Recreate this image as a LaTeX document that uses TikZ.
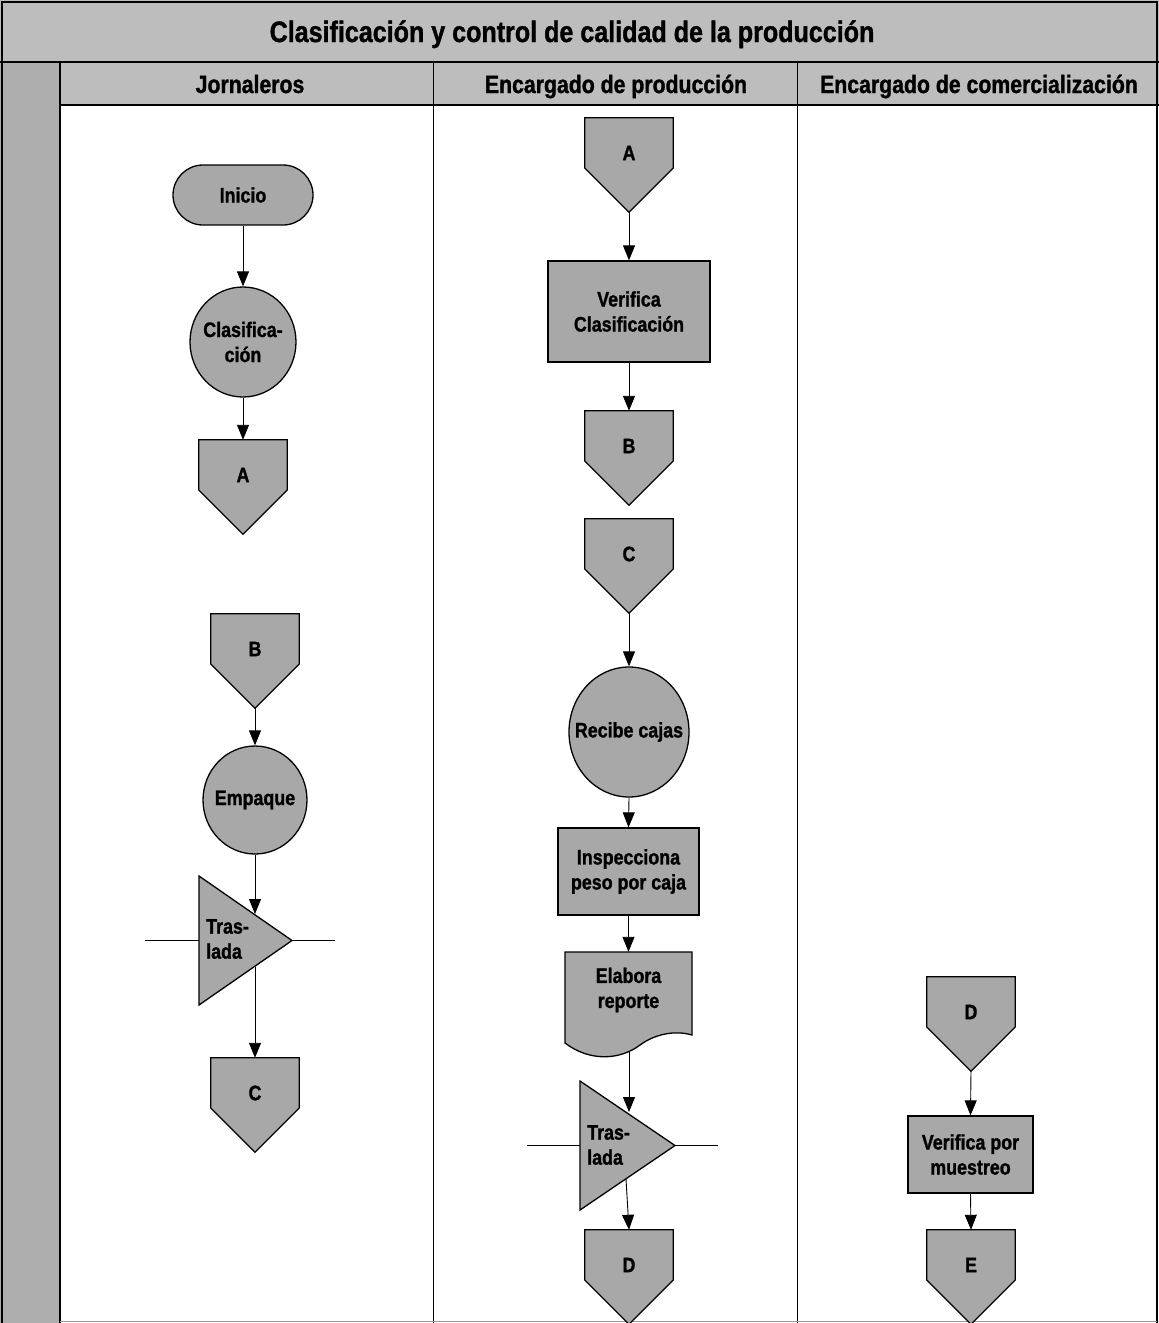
\documentclass[tikz,border=0pt]{standalone}
\usepackage{fontspec}
\setmainfont{Liberation Sans}[FakeStretch=0.85, BoldFeatures={FakeBold=1.2}]
\usetikzlibrary{shapes.geometric,arrows.meta,calc}
\definecolor{shp}{gray}{0.66}
\definecolor{band}{gray}{0.74}
\tikzset{
  shapefill/.style={fill=shp,draw=black,line width=1.3pt},
  txt/.style={font=\bfseries\fontsize{21}{25}\selectfont,align=center,inner sep=0pt},
  hdr/.style={font=\bfseries\fontsize{25}{28}\selectfont,inner sep=0pt,anchor=base},
  conn/.style={minimum width=88pt,minimum height=94pt,inner sep=0pt},
  procbox/.style={shapefill,rectangle,txt},
  circ/.style={shapefill,ellipse,inner sep=0pt},
  arr/.style={draw=black,line width=0.9pt,-{Triangle[length=15pt,width=12pt]}},
  plain/.style={draw=black,line width=0.9pt}
}
\newcommand{\offpg}[4]{% name, x, ytop, label
  \node[conn] (#1) at (#2,#3+47) {};
  \filldraw[shapefill] (#1.north west) -- (#1.north east) -- ([yshift=-3pt]#1.east)
     -- (#1.south) -- ([yshift=-3pt]#1.west) -- cycle;
  \node[txt] at ([yshift=12pt]#1.center) {#4};
}
\begin{document}
\begin{tikzpicture}[x=1pt,y=-1pt]
\useasboundingbox (0,0) rectangle (1159,1323);
% bands
\fill[band] (0,0) rectangle (1159,62);
\fill[band] (60,62) rectangle (1159,105);
\fill[band!92!black] (0,62) rectangle (60,1323);
\draw[line width=1.5pt] (2,1323) -- (2,2) -- (1157,2) -- (1157,1323);
\draw[line width=2.2pt] (0,62) -- (1159,62);
\draw[line width=1.2pt] (60,105) -- (1159,105);
\draw[line width=1.5pt] (60,62) -- (60,1323);
\draw[line width=1pt] (433,62) -- (433,1323);
\draw[line width=1pt] (797,62) -- (797,1323);
\draw[line width=0.8pt,black!40] (60,1321) -- (1157,1321);
% titles
\node[hdr,font=\bfseries\fontsize{29.5}{32}\selectfont] (title) at (572,42) {Clasificación y control de calidad de la producción};
\node[hdr] (h1) at (250,93) {Jornaleros};
\node[hdr] (h2) at (616,93) {Encargado de producción};
\node[hdr] (h3) at (979,93) {Encargado de comercialización};

% ---------------- Jornaleros ----------------
\node[procbox,rounded corners=30pt,minimum width=140pt,minimum height=60pt] (ini) at (243,195) {Inicio};
\node[circ,minimum width=106pt,minimum height=110pt,label={[txt]center:Clasifica-\\ción}] (clas) at (243,342) {};
\offpg{jA}{243}{440}{A}
\offpg{jB}{255}{614}{B}
\node[circ,minimum width=104pt,minimum height=108pt,label={[txt]center:Empaque}] (emp) at (255,800) {};
% triangle 1
\coordinate (l1a) at (145,940);
\coordinate (l1b) at (335,940);
\draw[plain] (l1a) -- (l1b);
\filldraw[shapefill] (199,876) -- (292,940.5) -- (199,1005) -- cycle;
\node[txt,align=left,anchor=west] (tras1) at (206,939) {Tras-\\lada};
\coordinate (t1in) at (255,914);
\coordinate (t1out) at (255,967);
\offpg{jC}{255}{1058}{C}

% ---------------- Producción ----------------
\offpg{pA}{629}{118}{A}
\node[procbox,minimum width=162pt,minimum height=101pt] (pver) at (629,311.5) {Verifica\\Clasificación};
\offpg{pB}{629}{411}{B}
\offpg{pC}{629}{519}{C}
\node[circ,minimum width=120pt,minimum height=130pt,label={[txt]center:Recibe cajas}] (rec) at (629,732) {};
\node[procbox,minimum width=141pt,minimum height=87pt] (insp) at (628.5,871.5) {Inspecciona\\peso por caja};
% document
\node[minimum width=127pt,minimum height=100pt,inner sep=0pt] (doc) at (628.5,1002) {};
\filldraw[shapefill] (565,1043) -- (565,952) -- (692,952) -- (692,1035)
   .. controls (675,1030) and (655,1034) .. (640,1045)
   .. controls (620,1060) and (590,1062) .. (565,1043) -- cycle;
\node[txt] at (628.5,990) {Elabora\\reporte};
\coordinate (docout) at (629,1052);
% triangle 2
\coordinate (l2a) at (527,1145);
\coordinate (l2b) at (718,1145);
\draw[plain] (l2a) -- (l2b);
\filldraw[shapefill] (580,1081) -- (675,1145.5) -- (580,1210) -- cycle;
\node[txt,align=left,anchor=west] (tras2) at (587,1145) {Tras-\\lada};
\coordinate (t2in) at (629,1112);
\coordinate (t2out) at (626,1179);
\offpg{pD}{629}{1230}{D}

% ---------------- Comercialización ----------------
\offpg{cD}{971}{977}{D}
\node[procbox,minimum width=125pt,minimum height=77pt] (cver) at (970.5,1154.5) {Verifica por\\muestreo};
\offpg{cE}{971}{1230}{E}

% connectors
\draw[arr] (ini.south) -- (clas.north);
\draw[arr] (clas.south) -- (jA.north);
\draw[arr] (jB.south) -- (emp.north);
\draw[arr] (emp.south) -- (t1in);
\draw[arr] (t1out) -- (jC.north);
\draw[arr] (pA.south) -- (pver.north);
\draw[arr] (pver.south) -- (pB.north);
\draw[arr] (pC.south) -- (rec.north);
\draw[arr] (rec.south) -- (insp.north);
\draw[arr] (insp.south) -- (doc.north);
\draw[arr] (docout) -- (t2in);
\draw[arr] (t2out) -- (pD.north);
\draw[arr] (cD.south) -- (cver.north);
\draw[arr] (cver.south) -- (cE.north);
\end{tikzpicture}
\end{document}
